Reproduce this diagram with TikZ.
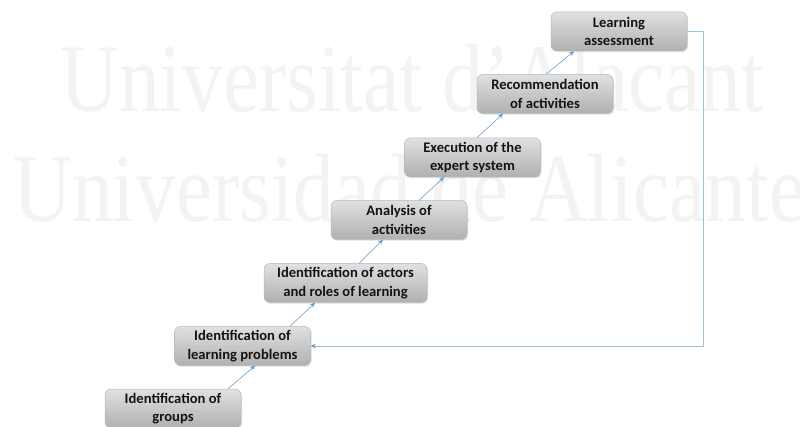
\documentclass[tikz,border=0pt]{standalone}
\usepackage{fontspec}
\setmainfont{Carlito}
\newfontfamily\markfont{Liberation Serif}
\usetikzlibrary{arrows.meta,shadows}
\definecolor{linkblue}{HTML}{5B9BD5}
\definecolor{loopline}{HTML}{9CC2D4}
\definecolor{markgray}{HTML}{F3F3F3}

\begin{document}
\begin{tikzpicture}[x=1pt,y=-1pt,
  stepbox/.style={rounded corners=6pt, draw=black!28, line width=0.5pt,
    top color=black!12, bottom color=black!31,
    minimum width=136pt, minimum height=39pt, inner sep=0pt,
    align=center, text=black!92,
    font=\fontsize{14.6}{18.5}\selectfont\bfseries,
    drop shadow={shadow xshift=1pt, shadow yshift=-1.2pt, opacity=0.25}},
  link/.style={draw=linkblue!85, line width=0.7pt,
    -{Stealth[length=5pt,width=4.5pt,color=linkblue]}},
  backlink/.style={draw=loopline, line width=0.8pt,
    -{Stealth[length=5pt,width=4.5pt,color=linkblue]}},
  faintword/.style={anchor=base west, inner sep=0pt, text=markgray,
    font=\markfont\fontsize{97}{97}\selectfont}
]
\useasboundingbox (0,0) rectangle (800,427);

% faint background lettering
\node[faintword] (wm1) at (60,112) {\scalebox{0.84}[1]{Universitat d’Alacant}};
\node[faintword] (wm2) at (13,222) {\scalebox{0.84}[1]{Universidad de Alicante}};

% the staircase of steps
\node[stepbox] (b1) at (173,408.5) {Identification of\\groups};
\node[stepbox] (b2) at (242.5,346) {Identification of\\learning problems};
\node[stepbox, minimum width=163pt] (b3) at (345.5,283) {Identification of actors\\and roles of learning};
\node[stepbox] (b4) at (399,220) {Analysis of\\activities};
\node[stepbox] (b5) at (472.5,157.5) {Execution of the\\expert system};
\node[stepbox] (b6) at (545,94) {Recommendation\\of activities};
\node[stepbox] (b7) at (619,31.5) {Learning\\assessment};

% connectors between consecutive steps
\draw[link] ([xshift=55pt]b1.north) -- ([xshift=12.5pt]b2.south);
\draw[link] ([xshift=47.5pt]b2.north) -- ([xshift=-30.5pt]b3.south);
\draw[link] ([xshift=13.5pt]b3.north) -- ([xshift=-16pt]b4.south);
\draw[link] ([xshift=20pt]b4.north) -- ([xshift=-28.5pt]b5.south);
\draw[link] ([xshift=4.5pt]b5.north) -- ([xshift=-42pt]b6.south);
\draw[link] ([xshift=1pt]b6.north) -- ([xshift=-45pt]b7.south);

% feedback loop from assessment back to learning problems
\coordinate (turn) at (703,31.5);
\draw[backlink] (b7.east) -- (turn) |- (b2.east);
\end{tikzpicture}
\end{document}
